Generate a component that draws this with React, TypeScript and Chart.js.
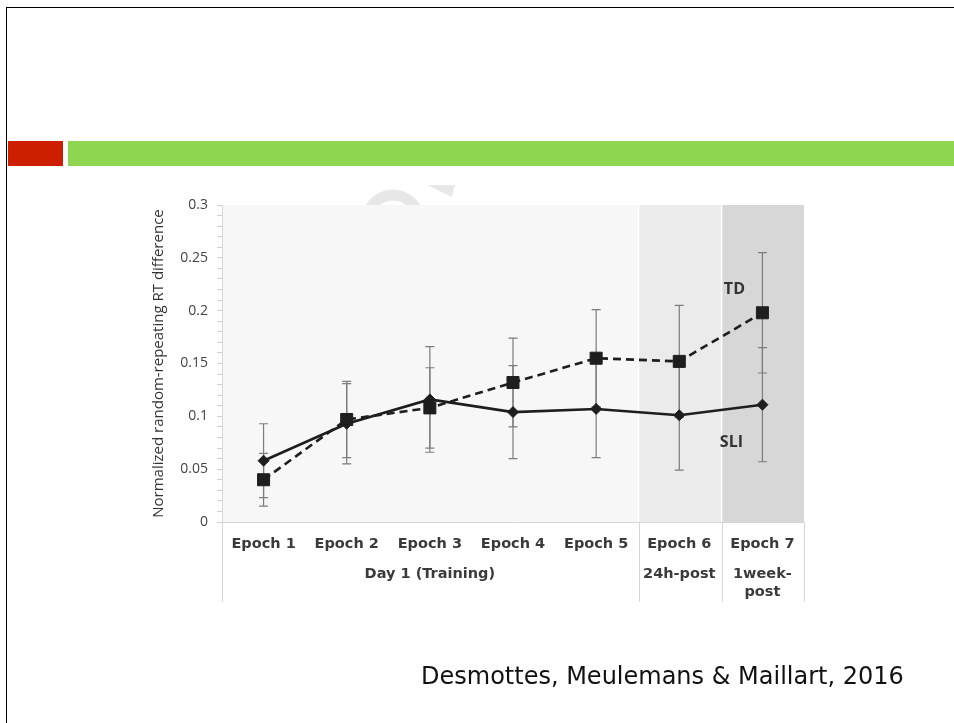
import React, { useEffect, useRef } from 'react';
import { Chart, registerables } from 'chart.js';

Chart.register(...registerables);

// ---- data ----
const epochLabels = ['Epoch 1', 'Epoch 2', 'Epoch 3', 'Epoch 4', 'Epoch 5', 'Epoch 6', 'Epoch 7'];
const phaseNames: (string | string[])[] = ['Day 1 (Training)', '24h-post', ['1week-', 'post']];
const phaseFirst = [0, 5, 6];
const phaseLast = [4, 5, 6];

const tdValues = [0.040, 0.097, 0.108, 0.132, 0.155, 0.152, 0.198];
const tdErrors = [0.025, 0.036, 0.038, 0.042, 0.046, 0.053, 0.057];
const sliValues = [0.058, 0.093, 0.116, 0.104, 0.107, 0.101, 0.111];
const sliErrors = [0.035, 0.038, 0.050, 0.044, 0.046, 0.052, 0.054];

const yTickLabels = ['0', '0.05', '0.1', '0.15', '0.2', '0.25', '0.3'];
const yAxisTitle = 'Normalized random-repeating RT difference';
const citation = 'Desmottes, Meulemans & Maillart, 2016';

// ---- styles ----
const phaseShades = ['#f7f7f7', '#ebebeb', '#d7d7d7'];
const lineColor = '#1e1e1e';
const errColor = '#7c7c7c';
const axisGray = '#d6d6d6';
const tableText = '#3a3a3a';

const errorsByDataset = [tdErrors, sliErrors];

const decorPlugin = {
  id: 'decor',
  beforeDraw(chart: any) {
    const { ctx, chartArea, scales } = chart;
    const x = scales.x;
    ctx.save();
    // faint watermark above plot
    ctx.strokeStyle = '#e7e7e7';
    ctx.lineWidth = 11;
    ctx.beginPath();
    ctx.arc(393, 221, 26, Math.PI * 1.05, Math.PI * 1.95);
    ctx.stroke();
    ctx.fillStyle = '#e7e7e7';
    ctx.beginPath();
    ctx.moveTo(427, 185);
    ctx.lineTo(455, 185);
    ctx.lineTo(452, 197);
    ctx.closePath();
    ctx.fill();
    // phase background bands
    phaseFirst.forEach((f, k) => {
      const l = phaseLast[k];
      const left = f === 0 ? chartArea.left : (x.getPixelForValue(f - 1) + x.getPixelForValue(f)) / 2;
      const right = l === epochLabels.length - 1 ? chartArea.right : (x.getPixelForValue(l) + x.getPixelForValue(l + 1)) / 2;
      ctx.fillStyle = phaseShades[k];
      ctx.fillRect(left + (k > 0 ? 1.5 : 0), chartArea.top, right - left - (k > 0 ? 1.5 : 0), chartArea.bottom - chartArea.top);
    });
    ctx.restore();
  },
  beforeDatasetsDraw(chart: any) {
    const { ctx, scales } = chart;
    const y = scales.y;
    ctx.save();
    ctx.strokeStyle = errColor;
    ctx.lineWidth = 1.2;
    chart.data.datasets.forEach((ds: any, di: number) => {
      const meta = chart.getDatasetMeta(di);
      const errs = errorsByDataset[di];
      meta.data.forEach((pt: any, i: number) => {
        const v = ds.data[i];
        const top = y.getPixelForValue(v + errs[i]);
        const bot = y.getPixelForValue(v - errs[i]);
        ctx.beginPath();
        ctx.moveTo(pt.x, top);
        ctx.lineTo(pt.x, bot);
        ctx.moveTo(pt.x - 4.5, top);
        ctx.lineTo(pt.x + 4.5, top);
        ctx.moveTo(pt.x - 4.5, bot);
        ctx.lineTo(pt.x + 4.5, bot);
        ctx.stroke();
      });
    });
    ctx.restore();
  },
  afterDatasetsDraw(chart: any) {
    const { ctx, scales } = chart;
    const x = scales.x;
    const y = scales.y;
    ctx.save();
    ctx.fillStyle = '#333';
    ctx.font = 'bold 16px "Open Sans"';
    ctx.textAlign = 'center';
    ctx.textBaseline = 'middle';
    const lastX = x.getPixelForValue(epochLabels.length - 1);
    ctx.fillText(chart.data.datasets[0].label, lastX - 28, y.getPixelForValue(0.2205));
    ctx.fillText(chart.data.datasets[1].label, lastX - 31, y.getPixelForValue(0.075));
    ctx.restore();
  },
  afterDraw(chart: any) {
    const { ctx, chartArea, scales } = chart;
    const x = scales.x;
    ctx.save();
    // table separators
    ctx.strokeStyle = axisGray;
    ctx.lineWidth = 1;
    const seps = [chartArea.left];
    phaseLast.forEach((l) => {
      seps.push(l === epochLabels.length - 1 ? chartArea.right : (x.getPixelForValue(l) + x.getPixelForValue(l + 1)) / 2 + 1);
    });
    seps.forEach((sx) => {
      ctx.beginPath();
      ctx.moveTo(Math.round(sx) + 0.5, chartArea.bottom);
      ctx.lineTo(Math.round(sx) + 0.5, chartArea.bottom + 80);
      ctx.stroke();
    });
    // phase row labels
    ctx.fillStyle = tableText;
    ctx.font = 'bold 14.5px "DejaVu Sans"';
    ctx.textAlign = 'center';
    ctx.textBaseline = 'middle';
    phaseNames.forEach((name, k) => {
      const cx = (x.getPixelForValue(phaseFirst[k]) + x.getPixelForValue(phaseLast[k])) / 2;
      const lines = Array.isArray(name) ? name : [name];
      lines.forEach((ln, j) => {
        ctx.fillText(ln, cx, chartArea.bottom + 52 + j * 18);
      });
    });
    ctx.restore();
  },
};

function ChartCanvas() {
  const ref = useRef<HTMLCanvasElement>(null);
  useEffect(() => {
    if (!ref.current) return;
    const chart = new Chart(ref.current, {
      type: 'line',
      data: {
        labels: epochLabels,
        datasets: [
          {
            label: 'TD',
            data: tdValues,
            borderColor: lineColor,
            backgroundColor: lineColor,
            borderWidth: 2.6,
            borderDash: [8, 5],
            pointStyle: 'rect',
            pointRadius: 8.5,
            pointBorderWidth: 1,
            pointBackgroundColor: lineColor,
            pointBorderColor: lineColor,
            tension: 0,
            fill: false,
          },
          {
            label: 'SLI',
            data: sliValues,
            borderColor: lineColor,
            backgroundColor: lineColor,
            borderWidth: 2.6,
            pointStyle: 'rectRot',
            pointRadius: 5.5,
            pointBorderWidth: 1,
            pointBackgroundColor: lineColor,
            pointBorderColor: lineColor,
            tension: 0,
            fill: false,
          },
        ],
      },
      options: {
        responsive: false,
        animation: false,
        events: [],
        layout: { padding: { left: 140, right: 150, top: 205, bottom: 0 } },
        plugins: { legend: { display: false }, tooltip: { enabled: false }, title: { display: false } },
        scales: {
          x: {
            type: 'category',
            offset: true,
            grid: { display: false, drawTicks: false },
            border: { display: true, color: axisGray, width: 1 },
            ticks: {
              color: tableText,
              font: { family: 'DejaVu Sans', weight: 'bold', size: 14.5 },
              padding: 14,
              maxRotation: 0,
              autoSkip: false,
            },
            afterFit: (s: any) => { s.height = 201; },
          },
          y: {
            min: 0,
            max: 0.3,
            ticks: {
              stepSize: 0.01,
              autoSkip: false,
              color: '#444',
              font: { family: 'Open Sans', size: 14 },
              padding: 9,
              callback: (v: any) => {
                const idx = Math.round(Number(v) * 100);
                return idx % 5 === 0 ? yTickLabels[idx / 5] : '';
              },
            },
            grid: { drawOnChartArea: false, drawTicks: true, tickLength: 5, color: '#cfcfcf' },
            border: { display: true, color: axisGray, width: 1 },
            title: {
              display: true,
              text: yAxisTitle,
              color: '#333',
              font: { family: 'Open Sans', size: 15 },
              padding: { top: 10, bottom: 0 },
            },
            afterFit: (s: any) => { s.width = 82; },
          },
        },
      },
      plugins: [decorPlugin],
    } as any);
    return () => chart.destroy();
  }, []);
  return <canvas ref={ref} width={954} height={723} style={{ position: 'absolute', left: 0, top: 0, width: 954, height: 723 }} />;
}

export default function App() {
  return (
    <div style={{ position: 'fixed', left: 0, top: 0, width: 954, height: 723, overflow: 'hidden', background: '#fff' }}>
      <div style={{ position: 'absolute', left: 6, top: 7, width: 2000, height: 2000, borderLeft: '1.6px solid #000', borderTop: '1.6px solid #000' }} />
      <div style={{ position: 'absolute', left: 8, top: 141, width: 55, height: 25, background: '#cd1f00' }} />
      <div style={{ position: 'absolute', left: 68, top: 141, width: 900, height: 25, background: '#8fd650' }} />
      <ChartCanvas />
      <div style={{ position: 'absolute', left: 421, top: 664, fontFamily: '"DejaVu Sans"', fontSize: 24, lineHeight: '24px', color: '#111', whiteSpace: 'nowrap' }}>{citation}</div>
    </div>
  );
}
